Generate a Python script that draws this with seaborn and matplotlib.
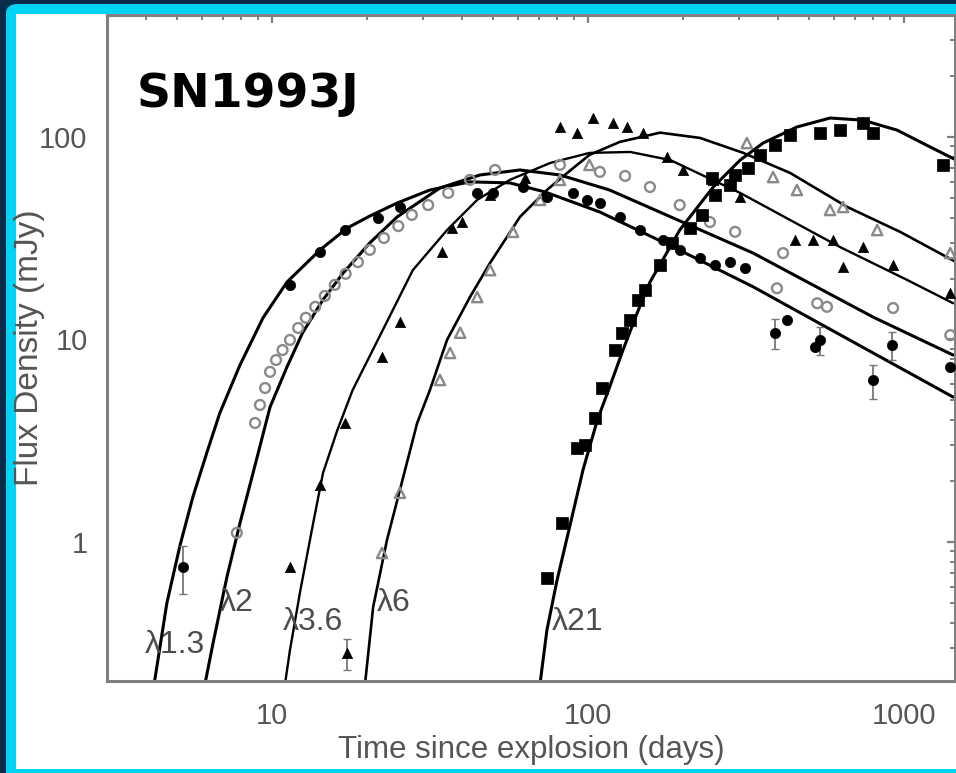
import matplotlib
matplotlib.use("Agg")
import matplotlib.pyplot as plt
from matplotlib.patches import FancyBboxPatch, Rectangle
from matplotlib.ticker import LogLocator, NullFormatter, FixedLocator, FixedFormatter
import seaborn as sns
import pandas as pd

# ---------------- data ----------------
# model light curves
c13_t = [4.24, 4.65, 5.12, 5.62, 6.23, 6.84, 7.92, 9.37, 11.15, 14.2, 17.3, 20.4, 24.9, 31.6, 42.3, 56.6, 73.1, 109, 186, 333, 798, 1429]
c13_f = [0.2, 0.50, 0.966, 1.67, 2.78, 4.34, 7.48, 12.8, 19.2, 27.7, 35.5, 40.7, 47.2, 54.7, 60.0, 59.3, 53.5, 42.6, 28.6, 18.2, 8.58, 5.20]

c2_t = [6.14, 6.51, 7.20, 7.92, 8.71, 9.86, 11.15, 12.5, 14.5, 16.8, 20.4, 24.9, 34.0, 45.5, 60.9, 81.5, 117, 186, 333, 798, 1429]
c2_f = [0.2, 0.317, 0.671, 1.24, 2.19, 4.64, 7.31, 10.8, 15.7, 21.3, 30.0, 40.3, 56.0, 64.9, 68.7, 64.9, 54.7, 39.8, 26.7, 12.9, 8.38]

c36_t = [11.0, 11.4, 12.3, 13.5, 14.5, 16.1, 18.0, 22.0, 27.9, 35.8, 44.6, 56.6, 75.9, 101, 136, 182, 303, 627, 1021, 1429]
c36_f = [0.2, 0.293, 0.579, 1.24, 2.19, 3.57, 5.63, 10.5, 22.0, 34.7, 48.9, 61.4, 74.4, 83.4, 84.3, 76.9, 52.9, 28.6, 19.7, 15.1]

c6_t = [19.7, 20.9, 23.1, 25.4, 28.8, 31.6, 35.8, 42.3, 49.0, 60.9, 74.1, 85.9, 101, 126, 169, 226, 310, 436, 661, 971, 1462]
c6_f = [0.2, 0.478, 1.02, 1.81, 3.87, 5.63, 9.95, 16.2, 23.9, 40.3, 54.7, 66.4, 81.5, 94.5, 105, 98.9, 83.4, 66.4, 45.1, 34.0, 24.1]

c21_t = [70.5, 74.1, 79.8, 87.7, 96.4, 107, 117, 129, 143, 157, 178, 195, 249, 303, 358, 458, 583, 741, 951, 1208, 1462]
c21_f = [0.2, 0.367, 0.649, 1.21, 2.27, 4.00, 5.82, 8.87, 13.5, 19.2, 27.0, 34.7, 56.6, 76.9, 93.3, 112, 124, 121, 108, 89.3, 76.9]

# measurements
p13_t = [5.23, 11.4, 14.2, 17.0, 21.6, 25.4, 44.6, 50.0, 62.2, 74.1, 89.7, 99.3, 109, 126, 146, 173, 195, 226, 252, 281, 314, 391, 427, 523, 542, 798, 916, 1400]
p13_f = [0.753, 18.6, 27.0, 34.7, 39.8, 45.1, 52.9, 52.9, 56.6, 50.5, 52.9, 48.9, 47.2, 40.3, 34.7, 31.0, 27.7, 25.3, 23.3, 24.1, 22.5, 10.8, 12.5, 9.18, 9.95, 6.31, 9.40, 7.31]
e13_t = [5.23, 391, 542, 798, 916]
e13_f = [0.753, 10.8, 9.95, 6.31, 9.40]
e13_err = [0.2, 1.8, 1.6, 1.2, 1.5]

p2_t = [7.74, 8.84, 9.16, 9.51, 9.86, 10.3, 10.8, 11.4, 12.1, 12.8, 13.7, 14.7, 15.8, 17.1, 18.7, 20.4, 22.6, 25.1, 27.7, 31.2, 36.1, 42.3, 50.8, 81.5, 109, 131, 157, 195, 243, 292, 396, 414, 531, 570, 923, 1400]
p2_f = [1.11, 3.87, 4.75, 5.76, 6.92, 7.92, 8.87, 9.95, 11.4, 12.8, 14.5, 16.4, 18.6, 21.1, 24.1, 27.7, 31.7, 36.3, 41.2, 46.1, 52.9, 61.4, 68.7, 72.8, 67.2, 64.2, 56.6, 46.1, 38.0, 34.0, 17.9, 26.7, 15.1, 14.5, 14.3, 10.5]

p36_t = [11.4, 14.2, 17.0, 17.3, 22.3, 25.4, 34.5, 37.1, 39.9, 49.0, 63.2, 81.5, 92.3, 104, 120, 133, 149, 178, 200, 249, 303, 452, 515, 596, 641, 741, 923, 1400]
p36_f = [0.753, 1.91, 3.87, 0.283, 8.20, 12.2, 27.0, 35.5, 38.0, 51.7, 62.8, 112, 105, 124, 117, 112, 105, 79.6, 68.7, 61.4, 50.5, 31.0, 31.0, 31.0, 22.8, 28.6, 23.3, 17.0]
e36_t = [17.3]
e36_f = [0.283]
e36_err = [0.05]

p6_t = [22.3, 25.4, 34.0, 36.6, 39.4, 44.6, 49.0, 57.9, 70.5, 81.5, 101, 318, 385, 458, 583, 641, 822, 1400]
p6_f = [0.883, 1.75, 6.31, 8.58, 10.8, 16.2, 22.0, 34.0, 48.9, 61.4, 72.8, 93.3, 63.4, 54.7, 43.6, 45.1, 34.7, 26.7]

p21_t = [74.1, 82.8, 92.3, 97.9, 105, 111, 122, 128, 136, 144, 151, 169, 184, 210, 230, 247, 252, 281, 292, 321, 350, 391, 436, 542, 627, 741, 798, 1327]
p21_f = [0.664, 1.24, 2.91, 3.01, 4.10, 5.76, 8.87, 10.8, 12.5, 15.7, 17.6, 23.3, 30.0, 35.5, 41.2, 62.8, 51.7, 57.9, 64.9, 70.3, 81.5, 91.3, 102, 105, 108, 117, 105, 72.8]

band_labels = ["λ1.3", "λ2", "λ3.6", "λ6", "λ21"]
label_t = [3.96, 6.84, 10.8, 21.5, 76.9]
label_f = [0.310, 0.50, 0.403, 0.50, 0.403]

x_ticks = [10, 100, 1000]
x_ticklabels = ["10", "100", "1000"]
y_ticks = [1, 10, 100]
y_ticklabels = ["1", "10", "100"]

# ---------------- style ----------------
sns.set_style("white")
plt.rcParams["font.family"] = ["Liberation Sans", "DejaVu Sans"]

W, H = 956, 773
fig = plt.figure(figsize=(W / 100, H / 100), dpi=100)
fig.patch.set_facecolor("#0b2b4b")

# cyan frame and white panel
cyan = FancyBboxPatch((6 / W, -20 / H), (W + 20) / W, (769 + 20) / H,
                      boxstyle="round,pad=0,rounding_size=0.012",
                      transform=fig.transFigure, facecolor="#00d4f5",
                      edgecolor="none", zorder=-3)
fig.patches.append(cyan)
white = Rectangle((16 / W, 4 / H), (W - 16) / W + 0.01, (759 - 4) / H,
                  transform=fig.transFigure, facecolor="white",
                  edgecolor="none", zorder=-2)
fig.patches.append(white)

ax = fig.add_axes([107 / W, (H - 681) / H, (955 - 107) / W, (681 - 15) / H])
ax.set_zorder(2)
ax.set_facecolor("white")
ax.set_xscale("log")
ax.set_yscale("log")

line_kw = dict(color="black", estimator=None, sort=False, legend=False, ax=ax)
curves = [(c13_t, c13_f, 2.2), (c2_t, c2_f, 2.2), (c36_t, c36_f, 1.7),
          (c6_t, c6_f, 1.9), (c21_t, c21_f, 2.2)]
for t, f, lw in curves:
    sns.lineplot(x=t, y=f, linewidth=lw, **line_kw)

# error bars
ax.errorbar(e13_t, e13_f, yerr=e13_err, fmt="none", ecolor="#777777", elinewidth=1.3, capsize=3, zorder=2)
ax.errorbar(e36_t, e36_f, yerr=e36_err, fmt="none", ecolor="#777777", elinewidth=1.3, capsize=3, zorder=2)

sns.scatterplot(x=p2_t, y=p2_f, marker="o", s=50, facecolor="none",
                edgecolor="#8a8a8a", linewidth=1.7, ax=ax, zorder=3)
sns.scatterplot(x=p6_t, y=p6_f, marker="^", s=55, facecolor="none",
                edgecolor="#8a8a8a", linewidth=1.7, ax=ax, zorder=3)
sns.scatterplot(x=p13_t, y=p13_f, marker="o", s=55, color="black",
                edgecolor="black", linewidth=0.5, ax=ax, zorder=4)
sns.scatterplot(x=p36_t, y=p36_f, marker="^", s=55, color="black",
                edgecolor="black", linewidth=0.5, ax=ax, zorder=4)
sns.scatterplot(x=p21_t, y=p21_f, marker="s", s=65, color="black",
                edgecolor="black", linewidth=0.5, ax=ax, zorder=4)

for lab, t, f in zip(band_labels, label_t, label_f):
    ax.text(t, f, lab, ha="left", va="center", fontsize=23, color="#4d4d4d", zorder=5)

ax.set_xlim(3.006, 1449)
ax.set_ylim(0.206, 400)

ax.xaxis.set_major_locator(FixedLocator(x_ticks))
ax.xaxis.set_major_formatter(FixedFormatter(x_ticklabels))
ax.yaxis.set_major_locator(FixedLocator(y_ticks))
ax.yaxis.set_major_formatter(FixedFormatter(y_ticklabels))
ax.xaxis.set_minor_locator(LogLocator(base=10, subs=range(2, 10), numticks=20))
ax.yaxis.set_minor_locator(LogLocator(base=10, subs=range(2, 10), numticks=20))
ax.xaxis.set_minor_formatter(NullFormatter())
ax.yaxis.set_minor_formatter(NullFormatter())

spine_c = "#808080"
for sp in ax.spines.values():
    sp.set_color(spine_c)
    sp.set_linewidth(2.2)
    sp.set_visible(True)

ax.tick_params(which="both", direction="in", top=True, right=True,
               color=spine_c, labelcolor="#555555")
ax.tick_params(which="major", length=6, width=1.6, labelsize=21)
ax.tick_params(which="minor", length=3.5, width=1.4)
ax.tick_params(axis="x", which="major", pad=15)
ax.tick_params(axis="y", which="major", pad=14)

ax.set_xlabel("Time since explosion (days)", fontsize=22.5, color="#555555")
ax.set_ylabel("Flux Density (mJy)", fontsize=24, color="#555555")
ax.xaxis.set_label_coords(0.5, -0.081)
ax.yaxis.set_label_coords(-0.073, 0.5)

fig.text(137 / W, (H - 107) / H, "SN1993J", fontsize=34, fontweight="bold",
         color="black", ha="left", va="baseline", family="DejaVu Sans", zorder=5)

fig.savefig("out.png", dpi=100, facecolor=fig.get_facecolor())
